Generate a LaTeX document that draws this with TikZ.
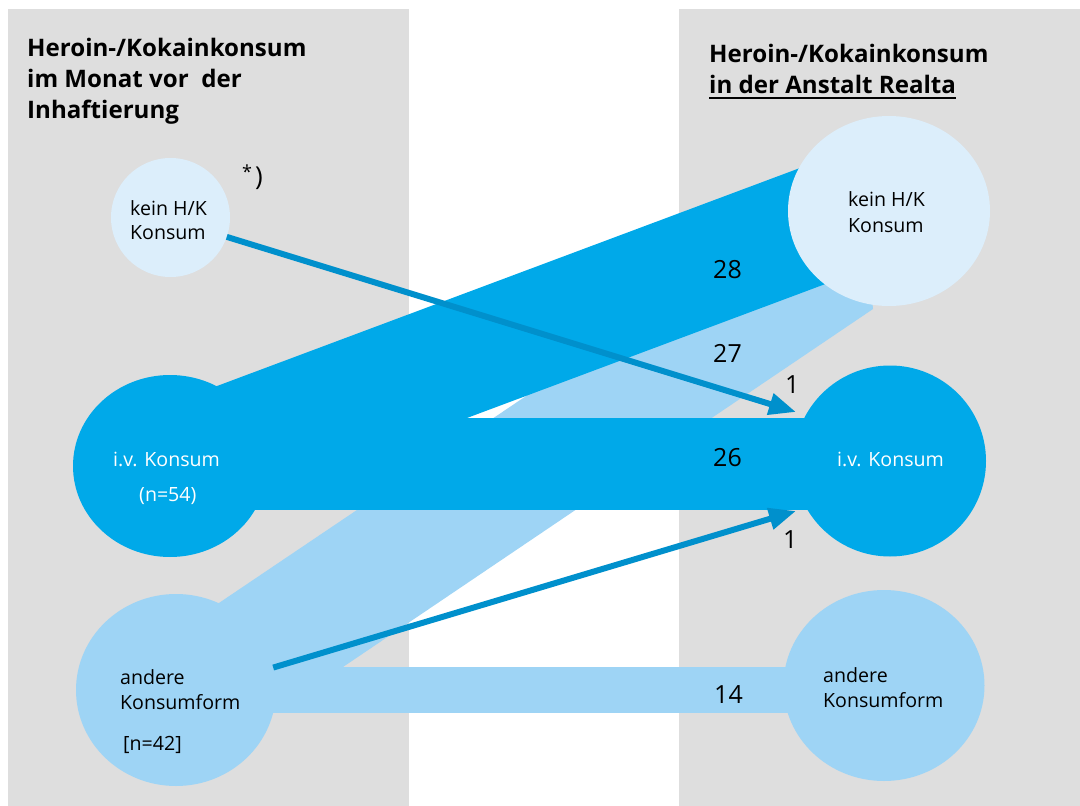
\documentclass[tikz,border=0pt]{standalone}
\usepackage{fontspec}
\setmainfont{Open Sans}
\usetikzlibrary{arrows.meta,shapes.geometric}
\definecolor{panel}{HTML}{DEDEDE}
\definecolor{dark}{HTML}{00A9E9}
\definecolor{light}{HTML}{9ED4F5}
\definecolor{pale}{HTML}{DCEEFB}
\definecolor{arrowc}{HTML}{0090CC}
\pgfdeclarelayer{bg}
\pgfdeclarelayer{bands}
\pgfsetlayers{bg,bands,main}
\begin{document}
\begin{tikzpicture}[x=1pt,y=-1pt,
  blob/.style={ellipse,inner sep=0pt,outer sep=0pt,draw=none},
  flow/.style={line width=6pt,draw=arrowc,-{Triangle[length=27pt,width=21pt]}},
  lab/.style={anchor=base west,inner sep=0pt,font=\fontsize{19.6}{22}\selectfont},
  wlab/.style={lab,text=white},
  num/.style={anchor=base west,inner sep=0pt,font=\fontsize{25}{28}\selectfont},
  ttl/.style={anchor=base west,inner sep=0pt,font=\bfseries\fontsize{24.1}{27}\selectfont}]
\useasboundingbox (0,0) rectangle (1080,806);
\begin{pgfonlayer}{bg}
  \fill[panel] (8,9) rectangle (409,806);
  \fill[panel] (679,9) rectangle (1080,806);
\end{pgfonlayer}
% nodes
\node[blob,fill=pale,minimum width=119pt,minimum height=119pt] (kl) at (170.5,217.5) {};
\node[blob,fill=dark,minimum width=194pt,minimum height=182pt] (il) at (170,466) {};
\node[blob,fill=light,minimum width=200pt,minimum height=192pt] (al) at (176,690) {};
\node[blob,fill=pale,minimum width=202pt,minimum height=190pt] (kr) at (889,211) {};
\node[blob,fill=dark,minimum width=192pt,minimum height=191pt] (ir) at (890,461) {};
\node[blob,fill=light,minimum width=201pt,minimum height=191pt] (ar) at (884,685.5) {};
% bands
\begin{pgfonlayer}{bands}
  % 27: andere -> kein
  \fill[light] (al.center) -- (190,622.5) -- (860,171) -- (873,309) -- (343,667) -- cycle;
  % 14: andere -> andere
  \fill[light] (al.center |- 0,667) rectangle (ar.center |- 0,713);
  % 28: i.v. -> kein
  \fill[dark] (170,403.6) -- (889,134.7) -- (889,260.2) -- (170,529) -- cycle;
  % 26: i.v. -> i.v.
  \fill[dark] (il.center |- 0,418) rectangle (ir.center |- 0,510);
\end{pgfonlayer}
% arrows
\coordinate (t1) at (796,412);
\coordinate (t2) at (796,511);
\draw[flow] (kl.-19.6) -- (t1);
\draw[flow] (al.13) -- (t2);
% titles
\node[ttl] (tl1) at (27,56) {Heroin-/Kokainkonsum};
\node[ttl] (tl2) at (27,87.5) {im Monat vor\ \ der};
\node[ttl] (tl3) at (27,118) {Inhaftierung};
\node[ttl] (tr1) at (709,62.5) {Heroin-/Kokainkonsum};
\node[ttl] (tr2) at (709,93.5) {in der Anstalt Realta};
\draw[line width=2pt] (tr2.base west) ++(0,4.5) coordinate (u1) -- (u1 -| tr2.base east);
% labels in circles
\node[lab] (kl1) at (130,215) {kein H/K};
\node[lab] (kl2) at (130,239) {Konsum};
\node[lab] (kr1) at (848,206) {kein H/K};
\node[lab] (kr2) at (848,232) {Konsum};
\node[wlab] (il1) at (113,466) {i.v. Konsum};
\node[wlab] (il2) at (139,501) {(n=54)};
\node[wlab] (ir1) at (837,466) {i.v. Konsum};
\node[lab] (al1) at (120,684) {andere};
\node[lab] (al2) at (120,709) {Konsumform};
\node[lab] (al3) at (123,750) {[n=42]};
\node[lab] (ar1) at (823,682) {andere};
\node[lab] (ar2) at (823,707) {Konsumform};
\node[anchor=base west,inner sep=0pt] (star) at (242,185) {\raisebox{7pt}{\fontsize{18}{18}\selectfont*}\kern3pt\fontsize{26}{26}\selectfont)};
% numbers
\node[num] (n28) at (713,278) {28};
\node[num] (n27) at (713,362) {27};
\node[num] (n26) at (713,466) {26};
\node[num] (n14) at (714,703) {14};
\node[num] (n1a) at (785,393) {1};
\node[num] (n1b) at (783,548) {1};
\end{tikzpicture}
\end{document}
